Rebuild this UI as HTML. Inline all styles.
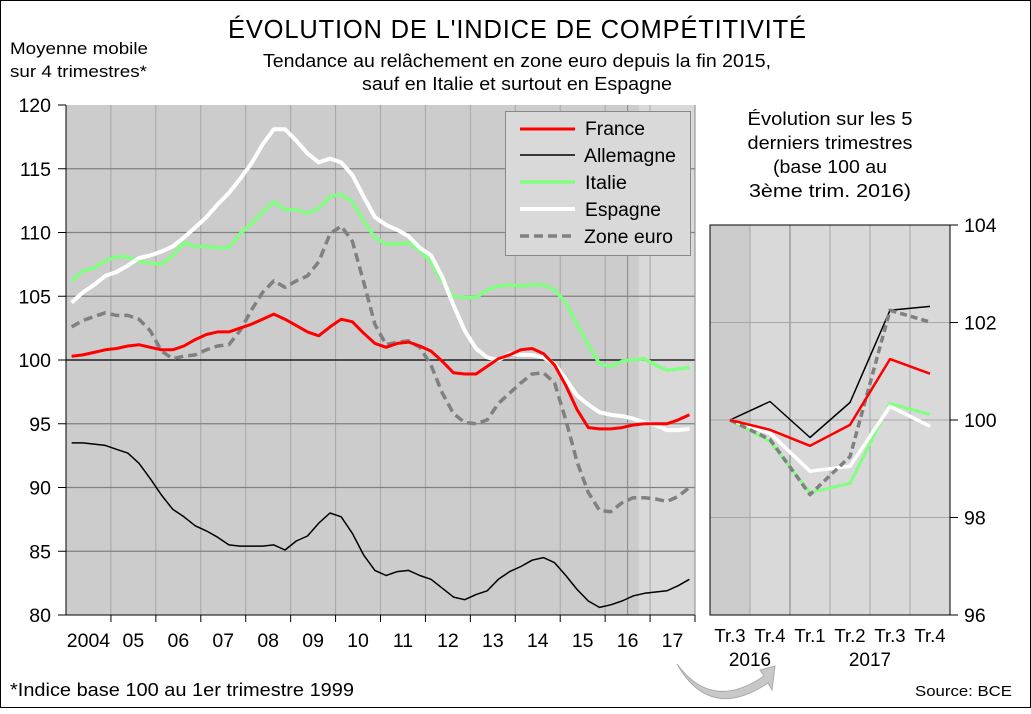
<!DOCTYPE html>
<html><head><meta charset="utf-8"><style>
body{margin:0;background:#fff}
svg text{font-family:"Liberation Sans",Arial,sans-serif;fill:#000}
</style></head><body>
<svg id="c" width="1031" height="709" xmlns="http://www.w3.org/2000/svg">
<rect x="0.5" y="0.5" width="1030" height="707" fill="#fff" stroke="#000"/>
<text x="517" y="38" font-size="25.5" text-anchor="middle" textLength="578">ÉVOLUTION DE L'INDICE DE COMPÉTITIVITÉ</text>
<text x="517" y="67" font-size="18" text-anchor="middle" textLength="508" lengthAdjust="spacingAndGlyphs">Tendance au relâchement en zone euro depuis la fin 2015,</text>
<text x="517" y="90" font-size="18" text-anchor="middle" textLength="310" lengthAdjust="spacingAndGlyphs">sauf en Italie et surtout en Espagne</text>
<text x="10" y="54" font-size="17" textLength="138" lengthAdjust="spacingAndGlyphs">Moyenne mobile</text>
<text x="10" y="77" font-size="17" textLength="137" lengthAdjust="spacingAndGlyphs">sur 4 trimestres*</text>
<text x="830" y="125" font-size="18.5" text-anchor="middle" textLength="165" lengthAdjust="spacingAndGlyphs">Évolution sur les 5</text>
<text x="830" y="149" font-size="18.5" text-anchor="middle" textLength="165" lengthAdjust="spacingAndGlyphs">derniers trimestres</text>
<text x="830" y="173" font-size="18.5" text-anchor="middle" textLength="114" lengthAdjust="spacingAndGlyphs">(base 100 au</text>
<text x="830" y="197" font-size="18.5" text-anchor="middle" textLength="162" lengthAdjust="spacingAndGlyphs">3ème trim. 2016)</text>
<text x="10" y="696" font-size="18" textLength="344" lengthAdjust="spacingAndGlyphs">*Indice base 100 au 1er trimestre 1999</text>
<text x="1012" y="696" font-size="15" text-anchor="end" fill="#333" textLength="97" lengthAdjust="spacingAndGlyphs">Source: BCE</text>
<path d="M677,664 Q712,712 764,676 L760,670 L775,666 L772,690 L768,683 Q710,722 677,664 Z" fill="#c8c8c8" stroke="#aaa"/>
<g id="main"></g><g id="inset"></g>
<g>
<rect x="505.5" y="111.5" width="185" height="144" fill="#d9d9d9" stroke="#888"/>
<line x1="520" y1="129" x2="575" y2="129" stroke="#f00" stroke-width="3"/>
<text x="585" y="135" font-size="19" textLength="60" lengthAdjust="spacingAndGlyphs">France</text>
<line x1="520" y1="155" x2="575" y2="155" stroke="#000" stroke-width="1.5"/>
<text x="584" y="162" font-size="19" textLength="92" lengthAdjust="spacingAndGlyphs">Allemagne</text>
<line x1="520" y1="182" x2="575" y2="182" stroke="#80ff80" stroke-width="3.5"/>
<text x="585" y="189" font-size="19" textLength="42" lengthAdjust="spacingAndGlyphs">Italie</text>
<line x1="520" y1="209" x2="575" y2="209" stroke="#fff" stroke-width="4"/>
<text x="585" y="216" font-size="19" textLength="76" lengthAdjust="spacingAndGlyphs">Espagne</text>
<line x1="520" y1="236" x2="575" y2="236" stroke="#808080" stroke-width="3.5" stroke-dasharray="9,5"/>
<text x="584" y="243" font-size="19" textLength="89" lengthAdjust="spacingAndGlyphs">Zone euro</text>
</g>
</svg>
<script>
const years=["2004","05","06","07","08","09","10","11","12","13","14","15","16","17"];
const yTicks=[80,85,90,95,100,105,110,115,120];
const france=[100.3,100.4,100.6,100.8,100.9,101.1,101.2,101.0,100.8,100.8,101.1,101.6,102.0,102.2,102.2,102.5,102.8,103.2,103.6,103.2,102.7,102.2,101.9,102.6,103.2,103.0,102.1,101.3,101.0,101.3,101.4,101.1,100.7,99.9,99.0,98.9,98.9,99.5,100.1,100.4,100.8,100.9,100.5,99.6,98.0,96.1,94.7,94.6,94.6,94.7,94.9,95.0,95.0,95.0,95.3,95.7];
const allemagne=[93.5,93.5,93.4,93.3,93.0,92.7,91.9,90.7,89.4,88.3,87.7,87.0,86.6,86.1,85.5,85.4,85.4,85.4,85.5,85.1,85.8,86.2,87.2,88.0,87.7,86.4,84.7,83.5,83.1,83.4,83.5,83.1,82.8,82.1,81.4,81.2,81.6,81.9,82.8,83.4,83.8,84.3,84.5,84.1,83.1,82.0,81.1,80.6,80.8,81.1,81.5,81.7,81.8,81.9,82.3,82.8];
const italie=[106.2,107.0,107.2,107.8,108.1,108.1,107.7,107.6,107.5,108.2,109.2,108.9,108.9,108.8,108.8,109.9,110.7,111.6,112.4,111.8,111.8,111.5,111.9,112.8,113.0,112.4,110.9,109.6,109.1,109.1,109.2,108.6,107.7,106.1,105.0,104.9,104.9,105.5,105.8,105.9,105.8,105.9,105.9,105.5,104.5,102.8,101.2,99.7,99.5,99.9,100.0,100.1,99.6,99.2,99.3,99.4];
const espagne=[104.5,105.3,105.9,106.6,106.9,107.4,108.0,108.2,108.5,108.9,109.6,110.4,111.2,112.2,113.1,114.2,115.4,116.9,118.1,118.1,117.2,116.2,115.5,115.8,115.5,114.5,112.8,111.2,110.6,110.2,109.7,108.8,108.2,106.5,104.3,102.3,100.9,100.2,100.0,100.5,100.4,100.4,100.2,99.7,98.5,97.2,96.5,95.9,95.7,95.6,95.4,95.1,94.9,94.5,94.5,94.6];
const zoneEuro=[102.6,103.1,103.4,103.7,103.5,103.5,103.2,102.3,100.7,100.1,100.3,100.4,100.8,101.1,101.2,102.3,103.9,105.3,106.2,105.7,106.2,106.6,107.7,109.9,110.5,109.3,106.1,102.8,101.2,101.4,101.5,101.0,99.6,97.4,95.8,95.1,95.0,95.3,96.6,97.4,98.2,98.9,99.0,98.2,95.3,92.0,89.6,88.2,88.1,88.8,89.2,89.2,89.1,88.9,89.3,90.0];
const insetCats=["Tr.3","Tr.4","Tr.1","Tr.2","Tr.3","Tr.4"];
const insetTicks=[96,98,100,102,104];
const inFrance=[100,99.8,99.47,99.9,101.25,100.95];
const inAllemagne=[100,100.38,99.64,100.36,102.25,102.33];
const inItalie=[100,99.56,98.51,98.7,100.34,100.11];
const inEspagne=[100,99.73,98.95,99.05,100.28,99.87];
const inZone=[100,99.6,98.47,99.25,102.25,102.01];

const NS="http://www.w3.org/2000/svg";
function mk(p,t,a){const e=document.createElementNS(NS,t);for(const k in a)e.setAttribute(k,a[k]);p.appendChild(e);return e;}
const L=66,R=695,T=105,B=615;
const nQ=years.length*4, qw=(R-L)/nQ;
const xq=i=>L+(i+0.5)*qw;
const ym=v=>T+(120-v)*(B-T)/40;
const g=document.getElementById('main');
let r=mk(g,'rect',{x:L,y:T,width:R-L,height:B-T,fill:'#cccccc'});


r=mk(g,'rect',{x:L+(nQ-5)*qw,y:T,width:5*qw,height:B-T,fill:'#d9d9d9'});


years.forEach((y,k)=>{
  const x=L+k*4*qw;
  if(k>0){const l=mk(g,'line',{x1:x,y1:T,x2:x,y2:B,stroke:'#a6a6a6'});
  
  }
  const tk=mk(g,'line',{x1:x+4*qw,y1:B,x2:x+4*qw,y2:B+7,stroke:'#000'});
  
  
  const t=mk(g,'text',{x:x+2*qw,y:B+32,'font-size':19.5,'text-anchor':'middle'});
  t.textContent=y;
  
  
});
let vl=mk(g,'line',{x1:L+(nQ-6)*qw,y1:T,x2:L+(nQ-6)*qw,y2:B,stroke:'#888'});


yTicks.forEach(v=>{
  const y=ym(v);
  if(v>80&&v<120){const l=mk(g,'line',{x1:L,y1:y,x2:R,y2:y,stroke:v===100?'#000':'#808080','stroke-width':v===100?1.3:1.2});
  
  }
  const tk=mk(g,'line',{x1:L-8,y1:y,x2:L,y2:y,stroke:'#000'});
  
  
  const t=mk(g,'text',{x:51,y:y+7,'font-size':19.5,'text-anchor':'end'});
  t.textContent=v;
  
  
});
let ax=mk(g,'path',{d:`M${L},${T}V${B}H${R}V${T}`,fill:'none',stroke:'#000'});


ax=mk(g,'line',{x1:R,y1:T,x2:R,y2:B,stroke:'#888'});


function series(p,arr,xf,yf,st,name){
  const d=arr.map((v,i)=>(i?'L':'M')+xf(i).toFixed(1)+','+yf(v).toFixed(1)).join('');
  const a=Object.assign({d:d,fill:'none','stroke-linejoin':'round'},st);
  const e=mk(p,'path',a);
  
  
}
const sAll={stroke:'#000','stroke-width':1.5}, sFr={stroke:'#f00','stroke-width':3},
 sIt={stroke:'#80ff80','stroke-width':3.5}, sEs={stroke:'#fff','stroke-width':4},
 sZo={stroke:'#808080','stroke-width':3.5,'stroke-dasharray':'9,5'};
series(g,allemagne,xq,ym,sAll,'line-allemagne');
series(g,italie,xq,ym,sIt,'line-italie');
series(g,espagne,xq,ym,sEs,'line-espagne');
series(g,zoneEuro,xq,ym,sZo,'line-zone-euro');
series(g,france,xq,ym,sFr,'line-france');
const IL=710,IR=950,IT=225,IB=615;
const cw=(IR-IL)/insetCats.length;
const xi=i=>IL+(i+0.5)*cw;
const yi=v=>IT+(104-v)*(IB-IT)/8;
const h=document.getElementById('inset');
r=mk(h,'rect',{x:IL,y:IT,width:IR-IL,height:IB-IT,fill:'#d9d9d9'});


r=mk(h,'rect',{x:IL,y:IT,width:cw,height:IB-IT,fill:'#cccccc'});


insetCats.forEach((c,i)=>{
  if(i>0){const l=mk(h,'line',{x1:IL+i*cw,y1:IT,x2:IL+i*cw,y2:IB,stroke:i===2?'#808080':'#a6a6a6'});
  
  }
  const t=mk(h,'text',{x:xi(i),y:642,'font-size':18.5,'text-anchor':'middle'});
  t.textContent=c;
  
  
});
let yt=mk(h,'text',{x:IL+cw,y:666,'font-size':19,'text-anchor':'middle'});yt.textContent='2016';


yt=mk(h,'text',{x:IL+4*cw,y:666,'font-size':19,'text-anchor':'middle'});yt.textContent='2017';


insetTicks.forEach(v=>{
  const y=yi(v);
  if(v>96&&v<104){const l=mk(h,'line',{x1:IL,y1:y,x2:IR,y2:y,stroke:'#a6a6a6'});
  
  }
  const tk=mk(h,'line',{x1:IR,y1:y,x2:IR+8,y2:y,stroke:'#000'});
  
  
  const t=mk(h,'text',{x:IR+14,y:y+7,'font-size':19.5});
  t.textContent=v;
  
  
});
ax=mk(h,'path',{d:`M${IR},${IT}V${IB}H${IL}V${IT}H${IR}`,fill:'none',stroke:'#000'});


series(h,inAllemagne,xi,yi,sAll,'inset-line-allemagne');
series(h,inItalie,xi,yi,Object.assign({},sIt,{'stroke-width':3}),'inset-line-italie');
series(h,inEspagne,xi,yi,Object.assign({},sEs,{'stroke-width':3.5}),'inset-line-espagne');
series(h,inZone,xi,yi,Object.assign({},sZo,{'stroke-dasharray':'7,4'}),'inset-line-zone-euro');
series(h,inFrance,xi,yi,Object.assign({},sFr,{'stroke-width':2.5}),'inset-line-france');
</script>
</body></html>
